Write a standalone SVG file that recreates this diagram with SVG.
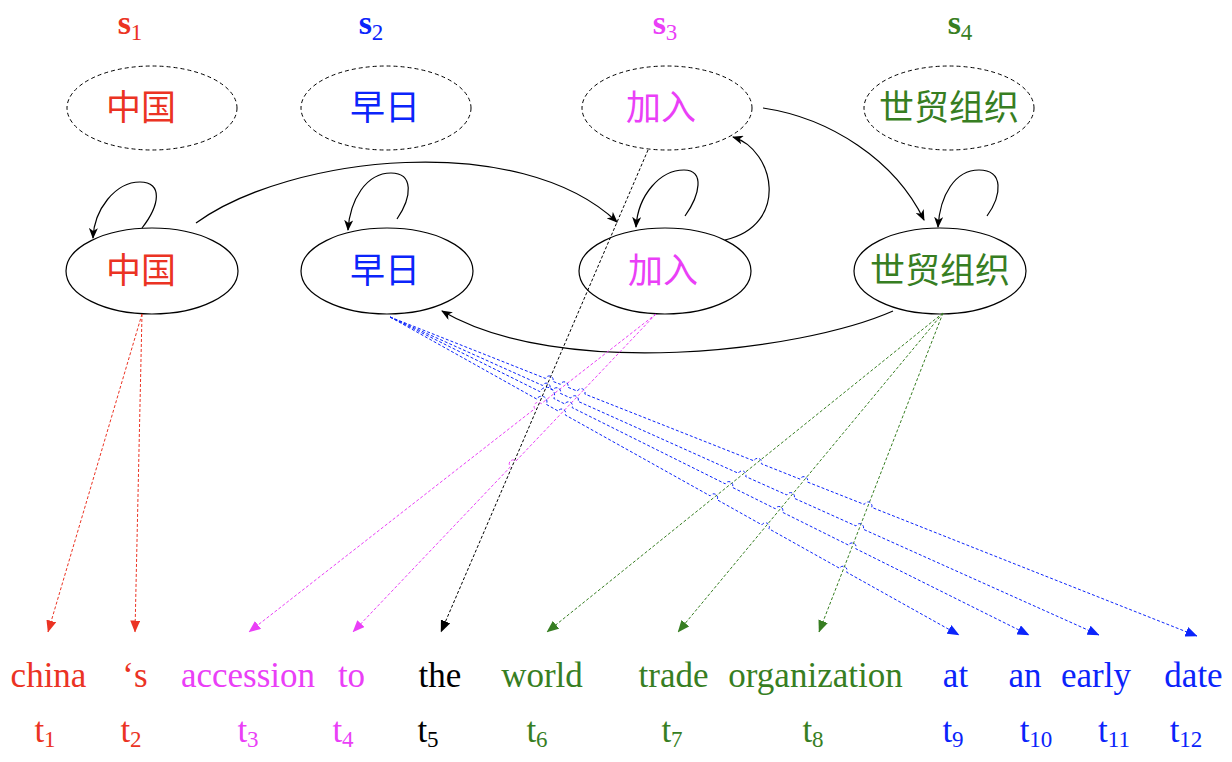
<svg xmlns="http://www.w3.org/2000/svg" width="1232" height="762" viewBox="0 0 1232 762">
<style>
.lat{font-family:"Liberation Serif","Times New Roman",serif}
.cjk{font-family:"Noto Sans CJK SC","Noto Sans",sans-serif;font-size:35px;text-anchor:middle}
.sl{font-size:34px;font-weight:bold;text-anchor:middle}
.sub{font-size:23px;font-weight:normal}
.word{font-size:35px;text-anchor:middle}
.tl{font-size:35px;text-anchor:middle}
.dash-el{fill:none;stroke:#000;stroke-width:1;stroke-dasharray:4 3}
.solid-el{fill:none;stroke:#000;stroke-width:1.2}
.edge{fill:none;stroke:#000;stroke-width:1.2}
.dl{fill:none;stroke-width:1;stroke-dasharray:3 2}
.red{fill:#eb3323}.blue{fill:#0b24fb}.mag{fill:#ea3ff7}.grn{fill:#377e22}.blk{fill:#000}
</style>
<defs>
<marker id="aCls" markerUnits="userSpaceOnUse" viewBox="0 0 11 9" markerWidth="11" markerHeight="9" refX="10" refY="4.5" orient="auto"><path d="M0,0 L11,4.5 L0,9 L3,4.5 Z" fill="#000"/></marker>
<marker id="aR" markerUnits="userSpaceOnUse" viewBox="0 0 12 10" markerWidth="12" markerHeight="10" refX="11.5" refY="5" orient="auto"><path d="M0,0 L12,5 L0,10 Z" fill="#eb3323"/></marker>
<marker id="aB" markerUnits="userSpaceOnUse" viewBox="0 0 12 10" markerWidth="12" markerHeight="10" refX="11.5" refY="5" orient="auto"><path d="M0,0 L12,5 L0,10 Z" fill="#0b24fb"/></marker>
<marker id="aM" markerUnits="userSpaceOnUse" viewBox="0 0 12 10" markerWidth="12" markerHeight="10" refX="11.5" refY="5" orient="auto"><path d="M0,0 L12,5 L0,10 Z" fill="#ea3ff7"/></marker>
<marker id="aG" markerUnits="userSpaceOnUse" viewBox="0 0 12 10" markerWidth="12" markerHeight="10" refX="11.5" refY="5" orient="auto"><path d="M0,0 L12,5 L0,10 Z" fill="#377e22"/></marker>
<marker id="aK" markerUnits="userSpaceOnUse" viewBox="0 0 12 10" markerWidth="12" markerHeight="10" refX="11.5" refY="5" orient="auto"><path d="M0,0 L12,5 L0,10 Z" fill="#000"/></marker>
</defs>
<rect width="1232" height="762" fill="#fff"/>

<g id="source-labels" class="lat">
<text class="sl red" x="130" y="34">s<tspan class="sub" dy="6">1</tspan></text>
<text class="sl blue" x="371" y="34">s<tspan class="sub" dy="6">2</tspan></text>
<text class="sl mag" x="665" y="34">s<tspan class="sub" dy="6">3</tspan></text>
<text class="sl grn" x="960" y="34">s<tspan class="sub" dy="6">4</tspan></text>
</g>

<g id="src-zhongguo"><ellipse class="dash-el" cx="152" cy="108" rx="85" ry="42"/><text class="cjk red" x="141" y="120">中国</text></g>
<g id="src-zaori"><ellipse class="dash-el" cx="386" cy="108" rx="85" ry="42"/><text class="cjk blue" x="385" y="120">早日</text></g>
<g id="src-jiaru"><ellipse class="dash-el" cx="667" cy="108" rx="85" ry="42"/><text class="cjk mag" x="661" y="120">加入</text></g>
<g id="src-shimao"><ellipse class="dash-el" cx="949" cy="108" rx="85" ry="42"/><text class="cjk grn" x="949" y="120">世贸组织</text></g>

<g id="st-zhongguo"><ellipse class="solid-el" cx="152" cy="271" rx="86" ry="43"/><text class="cjk red" x="141" y="283">中国</text></g>
<g id="st-zaori"><ellipse class="solid-el" cx="387" cy="271" rx="86" ry="43"/><text class="cjk blue" x="385" y="283">早日</text></g>
<g id="st-jiaru"><ellipse class="solid-el" cx="665" cy="271" rx="86" ry="43"/><text class="cjk mag" x="663" y="283">加入</text></g>
<g id="st-shimao"><ellipse class="solid-el" cx="940" cy="271" rx="86" ry="43"/><text class="cjk grn" x="940" y="283">世贸组织</text></g>

<g id="connectors">
<path class="edge" marker-end="url(#aCls)" d="M142,228 C160,205 163,182 140,182 C115,182 94,210 93,238"/>
<path class="edge" marker-end="url(#aCls)" d="M397,219 C412,197 414,173 391,173 C366,173 350,200 348,230"/>
<path class="edge" marker-end="url(#aCls)" d="M196,223 C290,155 520,130 617,222"/>
<path class="edge" marker-end="url(#aCls)" d="M685,216 C700,195 705,170 684,170 C660,170 638,195 636,227"/>
<path class="edge" marker-end="url(#aCls)" d="M725,240 C790,225 775,150 733,137"/>
<path class="edge" marker-end="url(#aCls)" d="M763,108 C830,118 895,160 924,220"/>
<path class="edge" marker-end="url(#aCls)" d="M987,216 C1002,195 1004,170 979,170 C955,170 940,195 938,227"/>
<path class="edge" marker-end="url(#aCls)" d="M893,311 C800,352 560,380 442,311"/>

<path class="dl" stroke="#eb3323" marker-end="url(#aR)" d="M142,314 L48,632"/>
<path class="dl" stroke="#eb3323" marker-end="url(#aR)" d="M142,314 L135,632"/>

<path class="dl" stroke="#000" marker-end="url(#aK)" d="M648,150 L441,632"/>

<path class="dl" stroke="#ea3ff7" marker-end="url(#aM)" d="M656,314 L541.15,403.74 A4 4 0 0 0 534.85,408.66 L249,632"/>
<path class="dl" stroke="#ea3ff7" marker-end="url(#aM)" d="M656,314 L515.96,461 A4 4 0 0 0 510.44,466.8 L353,632"/>

<path class="dl" stroke="#377e22" marker-end="url(#aG)" d="M943,313 L547,632"/>
<path class="dl" stroke="#377e22" marker-end="url(#aG)" d="M943,313 L678,632"/>
<path class="dl" stroke="#377e22" marker-end="url(#aG)" d="M943,313 L819,632"/>

<path class="dl" stroke="#0b24fb" marker-end="url(#aB)" d="M390,317 L536.7,399.05 A4 4 0 0 1 546.3,404.35 L558.2,411.05 A4 4 0 0 1 565.2,414.95 L710.1,495.85 A4 4 0 0 1 717.1,499.75 L761.9,524.85 A4 4 0 0 1 768.9,528.75 L839.5,568.25 A4 4 0 0 1 846.5,572.15 L959,635"/>
<path class="dl" stroke="#0b24fb" marker-end="url(#aB)" d="M390,317 L539.9,391.62 A4 4 0 0 1 553.8,398.48 L564.9,404.02 A4 4 0 0 1 572.1,407.58 L725.2,483.82 A4 4 0 0 1 732.4,487.38 L775.3,508.72 A4 4 0 0 1 782.5,512.28 L848.5,545.12 A4 4 0 0 1 855.7,548.68 L1029,635"/>
<path class="dl" stroke="#0b24fb" marker-end="url(#aB)" d="M390,317 L542.55,385.46 A4 4 0 0 1 549.85,388.74 L552.95,390.06 A4 4 0 0 1 560.25,393.34 L570.75,398.06 A4 4 0 0 1 578.05,401.34 L738.35,473.26 A4 4 0 0 1 745.65,476.54 L786.85,494.96 A4 4 0 0 1 794.15,498.24 L855.95,525.96 A4 4 0 0 1 863.25,529.24 L1099,635"/>
<path class="dl" stroke="#0b24fb" marker-end="url(#aB)" d="M390,317 L545.48,378.43 A4 4 0 0 1 552.92,381.37 L560.38,384.33 A4 4 0 0 1 567.82,387.27 L577.38,391.13 A4 4 0 0 1 584.82,394.07 L753.88,460.83 A4 4 0 0 1 761.32,463.77 L800.08,479.13 A4 4 0 0 1 807.52,482.07 L864.28,504.43 A4 4 0 0 1 871.72,507.37 L1197,636"/>
</g>

<g id="target-words" class="lat">
<text class="word red" x="48.5" y="687">china</text>
<text class="word red" x="135" y="687">‘s</text>
<text class="word mag" x="248" y="687">accession</text>
<text class="word mag" x="351.5" y="687">to</text>
<text class="word blk" x="440" y="687">the</text>
<text class="word grn" x="542" y="687">world</text>
<text class="word grn" x="673.5" y="687">trade</text>
<text class="word grn" x="815.5" y="687">organization</text>
<text class="word blue" x="955.5" y="687">at</text>
<text class="word blue" x="1025" y="687">an</text>
<text class="word blue" x="1096" y="687">early</text>
<text class="word blue" x="1193.5" y="687">date</text>
</g>

<g id="target-labels" class="lat">
<text class="tl red" x="45" y="742">t<tspan class="sub" dy="5">1</tspan></text>
<text class="tl red" x="131" y="742">t<tspan class="sub" dy="5">2</tspan></text>
<text class="tl mag" x="248" y="742">t<tspan class="sub" dy="5">3</tspan></text>
<text class="tl mag" x="343" y="742">t<tspan class="sub" dy="5">4</tspan></text>
<text class="tl blk" x="428" y="742">t<tspan class="sub" dy="5">5</tspan></text>
<text class="tl grn" x="537" y="742">t<tspan class="sub" dy="5">6</tspan></text>
<text class="tl grn" x="672" y="742">t<tspan class="sub" dy="5">7</tspan></text>
<text class="tl grn" x="813" y="742">t<tspan class="sub" dy="5">8</tspan></text>
<text class="tl blue" x="953" y="742">t<tspan class="sub" dy="5">9</tspan></text>
<text class="tl blue" x="1036" y="742">t<tspan class="sub" dy="5">10</tspan></text>
<text class="tl blue" x="1114" y="742">t<tspan class="sub" dy="5">11</tspan></text>
<text class="tl blue" x="1186" y="742">t<tspan class="sub" dy="5">12</tspan></text>
</g>
</svg>
